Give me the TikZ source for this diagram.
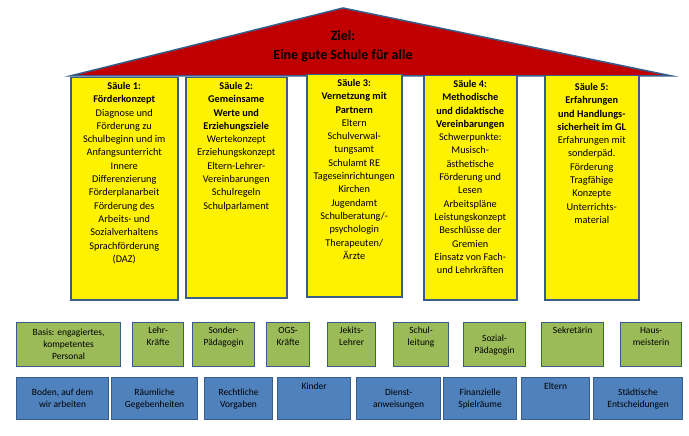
\documentclass[tikz,border=0pt]{standalone}
\usepackage{fontspec}
\setmainfont{Carlito}
\definecolor{bord}{HTML}{385D8A}
\definecolor{roofred}{HTML}{C00000}
\definecolor{pgreen}{HTML}{9BBB59}
\definecolor{pblue}{HTML}{4F81BD}
\tikzset{
 pillar/.style={draw=bord,line width=1.5pt,fill=yellow,anchor=north west,inner sep=0pt},
 ptext/.style={anchor=north,align=center,inner sep=0pt,font=\fontsize{10.3}{13.3}\selectfont},
 gbox/.style={draw=bord,line width=1.2pt,fill=pgreen,align=center,font=\fontsize{9.5}{12}\selectfont,anchor=north west,inner sep=0pt},
 bbox/.style={draw=bord,line width=1.2pt,fill=pblue,align=center,font=\fontsize{9.5}{12}\selectfont,anchor=north west,inner sep=0pt},
}
\begin{document}
\begin{tikzpicture}[x=1pt,y=-1pt]
\useasboundingbox (0,0) rectangle (689,436);
\draw[bord,line width=1.5pt,fill=roofred] (70,76) -- (343,8) -- (672,76) -- cycle;
\node[font=\bfseries\fontsize{14}{19}\selectfont,align=center] (title) at (343,46) {Ziel:\\Eine gute Schule für alle};
\node[pillar,minimum width=107pt,minimum height=222pt] (s1) at (70,77) {};
\node[ptext] (s1t) at ([yshift=-5pt]s1.north) {\textbf{Säule 1:}\\\textbf{Förderkonzept}\\Diagnose und\\Förderung zu\\Schulbeginn und im\\Anfangsunterricht\\Innere\\Differenzierung\\Förderplanarbeit\\Förderung des\\Arbeits- und\\Sozialverhaltens\\Sprachförderung\\(DAZ)};
\node[pillar,minimum width=101pt,minimum height=220pt] (s2) at (185,77) {};
\node[ptext] (s2t) at ([yshift=-5pt]s2.north) {\textbf{Säule 2:}\\\textbf{Gemeinsame}\\\textbf{Werte und}\\\textbf{Erziehungsziele}\\Wertekonzept\\Erziehungskonzept\\Eltern-Lehrer-\\Vereinbarungen\\Schulregeln\\Schulparlament};
\node[pillar,minimum width=95pt,minimum height=222pt] (s3) at (306,74) {};
\node[ptext] (s3t) at ([yshift=-5pt]s3.north) {\textbf{Säule 3:}\\\textbf{Vernetzung mit}\\\textbf{Partnern}\\Eltern\\Schulverwal-\\tungsamt\\Schulamt RE\\Tageseinrichtungen\\Kirchen\\Jugendamt\\Schulberatung/-\\psychologin\\Therapeuten/\\Ärzte};
\node[pillar,minimum width=93pt,minimum height=224pt] (s4) at (423,75) {};
\node[ptext] (s4t) at ([yshift=-5pt]s4.north) {\textbf{Säule 4:}\\\textbf{Methodische}\\\textbf{und didaktische}\\\textbf{Vereinbarungen}\\Schwerpunkte:\\Musisch-\\ästhetische\\Förderung und\\Lesen\\Arbeitspläne\\Leistungskonzept\\Beschlüsse der\\Gremien\\Einsatz von Fach-\\und Lehrkräften};
\node[pillar,minimum width=94pt,minimum height=224pt] (s5) at (544,75) {};
\node[ptext] (s5t) at ([yshift=-8pt]s5.north) {\textbf{Säule 5:}\\\textbf{Erfahrungen}\\\textbf{und Handlungs-}\\\textbf{sicherheit im GL}\\Erfahrungen mit\\sonderpäd.\\Förderung\\Tragfähige\\Konzepte\\Unterrichts-\\material};
% green row
\node[gbox,minimum width=104pt,minimum height=44pt] (g1) at (16,322) {Basis: engagiertes,\\kompetentes\\Personal};
\node[gbox,minimum width=51pt,minimum height=44pt] (g2) at (132,322) {Lehr-\\Kräfte\\[4pt]};
\node[gbox,minimum width=62pt,minimum height=44pt] (g3) at (192,322) {Sonder-\\Pädagogin\\[4pt]};
\node[gbox,minimum width=43pt,minimum height=44pt] (g4) at (266,322) {OGS-\\Kräfte\\[4pt]};
\node[gbox,minimum width=48pt,minimum height=44pt] (g5) at (327,322) {Jekits-\\Lehrer\\[4pt]};
\node[gbox,minimum width=55pt,minimum height=44pt] (g6) at (393,322) {Schul-\\leitung\\[4pt]};
\node[gbox,minimum width=62pt,minimum height=44pt] (g7) at (463,322) {Sozial-\\Pädagogin};
\node[gbox,minimum width=62pt,minimum height=44pt] (g8) at (541,322) {Sekretärin\\ \\[4pt]};
\node[gbox,minimum width=61pt,minimum height=44pt] (g9) at (620,322) {Haus-\\meisterin\\[4pt]};
% blue row
\node[bbox,minimum width=92pt,minimum height=42pt] (b1) at (16,377) {Boden, auf dem\\wir arbeiten};
\node[bbox,minimum width=86pt,minimum height=42pt] (b2) at (111,377) {Räumliche\\Gegebenheiten};
\node[bbox,minimum width=68pt,minimum height=42pt] (b3) at (204,377) {Rechtliche\\Vorgaben};
\node[bbox,minimum width=73pt,minimum height=42pt] (b4) at (277,377) {Kinder\\ \\};
\node[bbox,minimum width=84pt,minimum height=42pt] (b5) at (356,377) {Dienst-\\anweisungen};
\node[bbox,minimum width=73pt,minimum height=42pt] (b6) at (443,377) {Finanzielle\\Spielräume};
\node[bbox,minimum width=68pt,minimum height=42pt] (b7) at (521,377) {Eltern\\ \\};
\node[bbox,minimum width=89pt,minimum height=42pt] (b8) at (593,377) {Städtische\\Entscheidungen};
\end{tikzpicture}
\end{document}
